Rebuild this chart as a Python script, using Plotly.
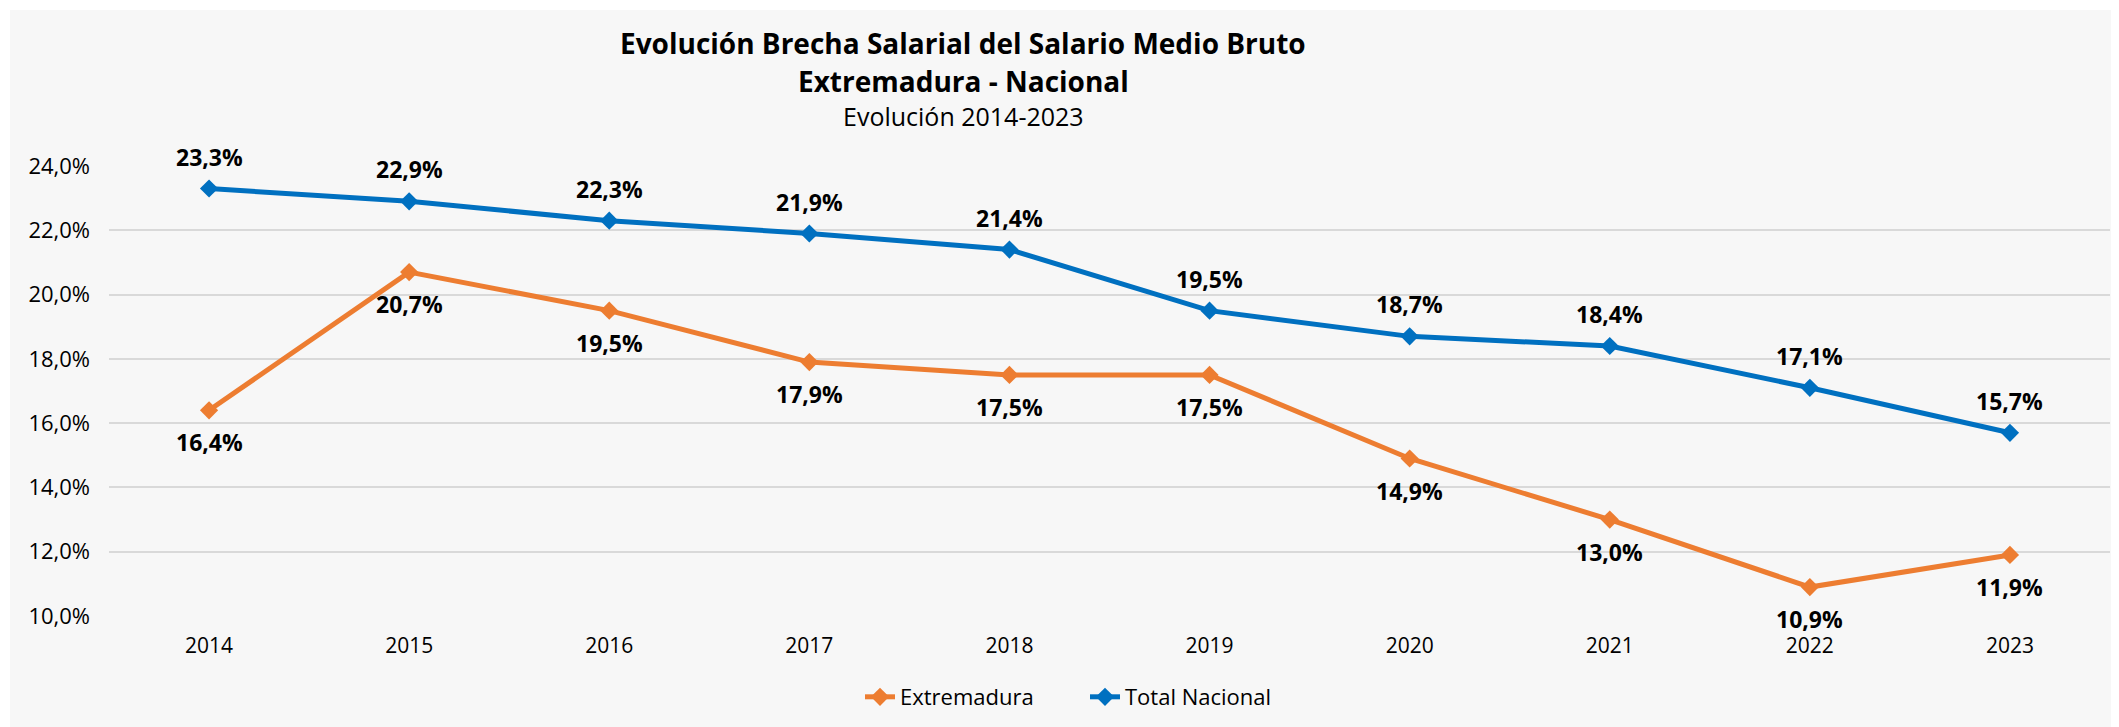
import plotly.graph_objects as go

years = [2014, 2015, 2016, 2017, 2018, 2019, 2020, 2021, 2022, 2023]
extremadura = [16.4, 20.7, 19.5, 17.9, 17.5, 17.5, 14.9, 13.0, 10.9, 11.9]
nacional = [23.3, 22.9, 22.3, 21.9, 21.4, 19.5, 18.7, 18.4, 17.1, 15.7]
y_ticks = [10, 12, 14, 16, 18, 20, 22, 24]

title_1 = "Evolución Brecha Salarial del Salario Medio Bruto"
title_2 = "Extremadura - Nacional"
subtitle = "Evolución 2014-2023"

ORANGE = "#ED7D31"
BLUE = "#0070C0"
FONT = "Open Sans"

# the page body has an 8px default margin: work in screen coordinates and convert
OFF = 8
SW, SH = 2119, 727
W, H = SW - OFF, SH - OFF
PL, PR, PT, PB = 109, 2110, 166, 616  # plot area in screen px
L = PL - OFF
R = W - (PR - OFF)
T = PT - OFF
B = H - (PB - OFF)
PW = PR - PL
PH = PB - PT


def px(x):
    return (x - PL) / PW


def py(y):
    return (PB - y) / PH


fig = go.Figure()
fig.add_trace(go.Scatter(
    x=years, y=extremadura, name="Extremadura", mode="lines+markers",
    line=dict(color=ORANGE, width=5),
    marker=dict(symbol="diamond", size=14, color=ORANGE),
))
fig.add_trace(go.Scatter(
    x=years, y=nacional, name="Total Nacional", mode="lines+markers",
    line=dict(color=BLUE, width=5),
    marker=dict(symbol="diamond", size=14, color=BLUE),
))


def fmt(v):
    return f"{v:.1f}".replace(".", ",") + "%"


annotations = []
for x, v in zip(years, nacional):
    annotations.append(dict(x=x, y=v, xref="x", yref="y", text=fmt(v), showarrow=False,
                            yshift=32, xanchor="center", yanchor="middle",
                            font=dict(family=FONT, size=23, color="#000000", weight="bold")))
for x, v in zip(years, extremadura):
    annotations.append(dict(x=x, y=v, xref="x", yref="y", text=fmt(v), showarrow=False,
                            yshift=-32, xanchor="center", yanchor="middle",
                            font=dict(family=FONT, size=23, color="#000000", weight="bold")))

annotations += [
    dict(x=px(963), y=py(43), xref="paper", yref="paper", text="<b>" + title_1 + "</b>",
         showarrow=False, xanchor="center", yanchor="middle",
         font=dict(family=FONT, size=28, color="#000000")),
    dict(x=px(963), y=py(81), xref="paper", yref="paper", text="<b>" + title_2 + "</b>",
         showarrow=False, xanchor="center", yanchor="middle",
         font=dict(family=FONT, size=28, color="#000000")),
    dict(x=px(963), y=py(116), xref="paper", yref="paper", text=subtitle,
         showarrow=False, xanchor="center", yanchor="middle",
         font=dict(family=FONT, size=25, color="#000000")),
]

shapes = [
    dict(type="rect", xref="paper", yref="paper", x0=px(10), x1=px(SW + 20), y0=py(SH + 20), y1=py(10),
         fillcolor="#f7f7f7", line=dict(width=0), layer="below"),
]

fig.update_layout(
    width=W, height=H,
    margin=dict(l=L, r=R, t=T, b=B, pad=0),
    paper_bgcolor="#ffffff",
    plot_bgcolor="rgba(0,0,0,0)",
    separators=",.",
    font=dict(family=FONT, size=21, color="#000000"),
    showlegend=True,
    legend=dict(orientation="h", x=px(860), y=py(697), xanchor="left", yanchor="middle",
                bgcolor="rgba(0,0,0,0)", font=dict(family=FONT, size=22, color="#000000"),
                entrywidth=180, entrywidthmode="pixels", traceorder="normal"),
    annotations=annotations,
    shapes=shapes,
)
fig.update_xaxes(range=[2013.5, 2023.5], tickvals=years, ticktext=[str(y) for y in years],
                 showgrid=False, zeroline=False, showline=False, ticks="",
                 ticklabelstandoff=15,
                 tickfont=dict(family=FONT, size=21, color="#000000"))
fig.update_yaxes(range=[10, 24], tickvals=y_ticks, ticktext=[fmt(v) for v in y_ticks],
                 showgrid=True, gridcolor="#d9d9d9", gridwidth=2, zeroline=False,
                 showline=False, ticks="", ticklabelstandoff=18,
                 tickfont=dict(family=FONT, size=22, color="#000000"))

fig.write_html("out.html")
